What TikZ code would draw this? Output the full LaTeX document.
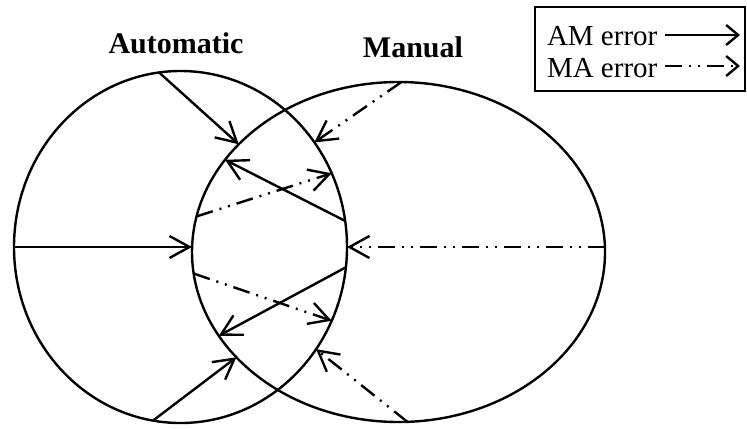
\documentclass[tikz,border=0pt]{standalone}
\usepackage{fontspec}
\setmainfont{Liberation Serif}
\usepackage{tikz}
\newcommand{\pxunit}{0.5pt}
\usetikzlibrary{shapes.geometric}
\usetikzlibrary{arrows.meta}
\tikzstyle{errset}=[draw, ellipse, inner sep=0, outer sep=0]
\tikzstyle{amerror}=[-{Straight Barb[length=10pt, width=11pt]}]
\tikzstyle{maerror}=[amerror, dash pattern=on 8.5pt off 3.5pt on 1pt off 3.5pt on 1pt off 3.5pt]
\tikzstyle{keyarrow}[1]=[#1, -{Straight Barb[length=6pt, width=10pt]}]
\tikzstyle{venn}=[x=\pxunit, y=-\pxunit, line width=1.2pt,
                  % Labels sit on their baseline.
                  every node/.style={inner sep=0, outer sep=0}]

\begin{document}
\begin{tikzpicture}[venn]
        \useasboundingbox (0, 0) rectangle (747, 428);
        % The two sets.
        \node[errset, minimum width=333*\pxunit, minimum height=352*\pxunit] (A) at (180.5, 247) {};
        \node[errset, minimum width=413*\pxunit, minimum height=340*\pxunit] (M) at (398.5, 252) {};
        \node[anchor=base, font=\bfseries\fontsize{15}{18}\selectfont] (Alabel) at (176, 53) {Automatic};
        \node[anchor=base, font=\bfseries\fontsize{15}{18}\selectfont] (Mlabel) at (413, 57) {Manual};
        % Automatic to manual.
        \draw[amerror] (A.97) -- (M.146);
        \draw[amerror] (A.9) -- (M.152);
        \draw[amerror] (A.west) -- (A.west -| M.west);
        \draw[amerror] (A.353) -- (M.205);
        \draw[amerror] (A.261) -- (M.213);
        % Manual to automatic.
        \draw[maerror] (M.89) -- (A.38);
        \draw[maerror] (M.170) -- (A.26);
        \draw[maerror] (M.east |- A.east) -- (A.east);
        \draw[maerror] (M.186) -- (A.334);
        \draw[maerror] (M.273) -- (A.323);
        % Key.
        \draw (535, 7) rectangle (745, 91);
        \node[anchor=base west, font=\fontsize{14.5}{17}\selectfont] (AMkey) at (547, 45) {AM error};
        \node[anchor=base west, font=\fontsize{14.5}{17}\selectfont] (MAkey) at (547, 77) {MA error};
        \coordinate (AMs) at (665, 35);
        \coordinate (AMe) at (740, 35);
        \coordinate (MAs) at (665, 66);
        \coordinate (MAe) at (740, 66);
        \draw[keyarrow=amerror] (AMs) -- (AMe);
        \draw[keyarrow=maerror] (MAs) -- (MAe);
    \end{tikzpicture}
\end{document}
